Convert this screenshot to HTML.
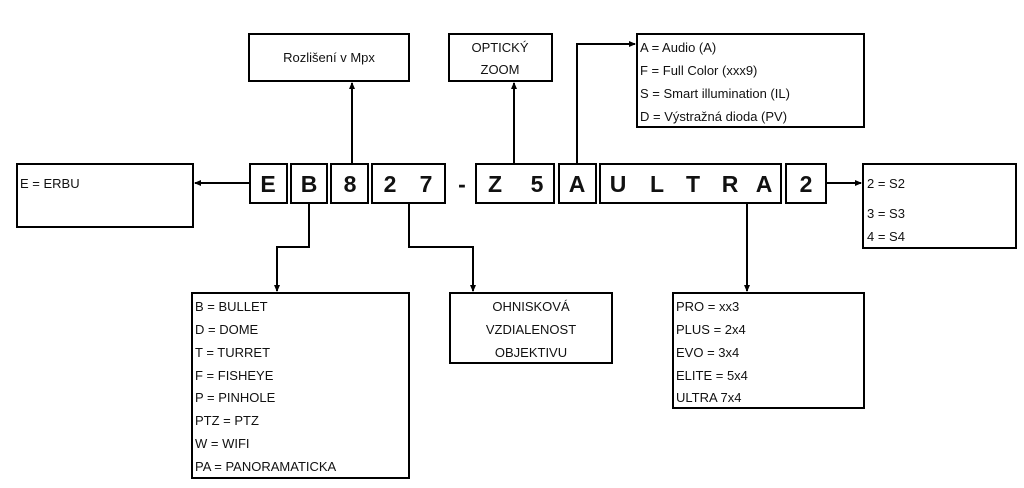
<!DOCTYPE html>
<html><head><meta charset="utf-8"><style>
html,body{margin:0;padding:0;background:#fff;width:1024px;height:488px;overflow:hidden}
svg{display:block}
text{font-family:"Liberation Sans",sans-serif;fill:#111}
.t{font-size:13px}
.c{font-size:23px;font-weight:bold;text-anchor:middle}
</style></head><body>
<svg width="1024" height="488" viewBox="0 0 1024 488">
<defs><marker id="a" markerWidth="8" markerHeight="8" refX="6" refY="4" orient="auto" markerUnits="userSpaceOnUse"><path d="M0,1 L7,4 L0,7 z" fill="#000"/></marker></defs>
<g fill="none" stroke="#000" stroke-width="2">
<rect x="17" y="164" width="176" height="63"/>
<rect x="249" y="34" width="160" height="47"/>
<rect x="449" y="34" width="103" height="47"/>
<rect x="637" y="34" width="227" height="93"/>
<rect x="863" y="164" width="153" height="84"/>
<rect x="192" y="293" width="217" height="185"/>
<rect x="450" y="293" width="162" height="70"/>
<rect x="673" y="293" width="191" height="115"/>
<rect x="250" y="164" width="37" height="39"/>
<rect x="291" y="164" width="36" height="39"/>
<rect x="331" y="164" width="37" height="39"/>
<rect x="372" y="164" width="73" height="39"/>
<rect x="476" y="164" width="78" height="39"/>
<rect x="559" y="164" width="37" height="39"/>
<rect x="600" y="164" width="181" height="39"/>
<rect x="786" y="164" width="40" height="39"/>
</g>
<g fill="none" stroke="#000" stroke-width="2">
<path d="M250,183 H195" marker-end="url(#a)"/>
<path d="M352,164 V83" marker-end="url(#a)"/>
<path d="M514,164 V83" marker-end="url(#a)"/>
<path d="M577,164 V44 H635" marker-end="url(#a)"/>
<path d="M826,183 H861" marker-end="url(#a)"/>
<path d="M309,203 V247 H277 V291" marker-end="url(#a)"/>
<path d="M409,203 V247 H473 V291" marker-end="url(#a)"/>
<path d="M747,203 V291" marker-end="url(#a)"/>
</g>
<g class="c">
<text x="268" y="192">E</text>
<text x="309" y="192">B</text>
<text x="350" y="192">8</text>
<text x="390" y="192">2</text>
<text x="426" y="192">7</text>
<text x="462" y="192">-</text>
<text x="495" y="192">Z</text>
<text x="537" y="192">5</text>
<text x="577" y="192">A</text>
<text x="618" y="192">U</text>
<text x="657" y="192">L</text>
<text x="693" y="192">T</text>
<text x="730" y="192">R</text>
<text x="764" y="192">A</text>
<text x="806" y="192">2</text>
</g>
<g class="t">
<text x="20" y="188">E = ERBU</text>
<text x="329" y="62" text-anchor="middle">Rozlišení v Mpx</text>
<text x="500" y="52" text-anchor="middle">OPTICKÝ</text>
<text x="500" y="74" text-anchor="middle">ZOOM</text>
<text x="640" y="52">A = Audio (A)</text>
<text x="640" y="75">F = Full Color (xxx9)</text>
<text x="640" y="98">S = Smart illumination (IL)</text>
<text x="640" y="121">D = Výstražná dioda (PV)</text>
<text x="867" y="188">2 = S2</text>
<text x="867" y="218">3 = S3</text>
<text x="867" y="241">4 = S4</text>
<text x="195" y="311">B = BULLET</text>
<text x="195" y="334">D = DOME</text>
<text x="195" y="357">T = TURRET</text>
<text x="195" y="380">F = FISHEYE</text>
<text x="195" y="402">P = PINHOLE</text>
<text x="195" y="425">PTZ = PTZ</text>
<text x="195" y="448">W = WIFI</text>
<text x="195" y="471">PA = PANORAMATICKA</text>
<text x="531" y="311" text-anchor="middle">OHNISKOVÁ</text>
<text x="531" y="334" text-anchor="middle">VZDIALENOST</text>
<text x="531" y="357" text-anchor="middle">OBJEKTIVU</text>
<text x="676" y="311">PRO = xx3</text>
<text x="676" y="334">PLUS = 2x4</text>
<text x="676" y="357">EVO = 3x4</text>
<text x="676" y="380">ELITE = 5x4</text>
<text x="676" y="402">ULTRA 7x4</text>
</g>
</svg>
</body></html>
